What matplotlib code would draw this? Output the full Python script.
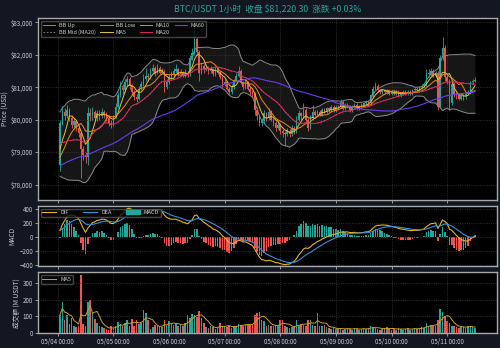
import numpy as np
import pandas as pd
import matplotlib
matplotlib.use('Agg')
import matplotlib.pyplot as plt
import matplotlib.dates as mdates
from matplotlib.lines import Line2D
from matplotlib.patches import Patch
from matplotlib.ticker import FuncFormatter

plt.rcParams['font.family'] = ['Noto Sans CJK SC', 'DejaVu Sans']

# 1h candles, 05/04 01:00 -> 05/11 12:00
start_time = '2025-05-04 01:00'

# 60 closes before the window (not drawn), only to seed MA/BB/MACD
warmup_closes = [
    77900, 77950, 78000, 77950, 78050, 78100, 78050, 78000, 78100, 78150,
    78100, 78050, 78150, 78200, 78150, 78100, 78200, 78250, 78200, 78150,
    78200, 78250, 78200, 78150, 78250, 78300, 78250, 78200, 78300, 78350,
    78300, 78250, 78350, 78400, 78350, 78300, 78400, 78450, 78600, 78900, 79200,
    79500, 79700, 79800, 79600, 79700, 79650, 79750, 79600, 79550, 79650,
    78800, 78600, 78500, 78550, 78550,
    78950, 79050, 79000, 78600,
]

opens = [
    78600, 79900, 80250, 80100, 80300, 80050, 79850, 79950, 79750, 79600, 79100, 78900,
    78850, 80200, 80100, 80250, 80050, 80200, 80100, 80250, 80150, 80050, 79900, 79850,
    80100, 80400, 80750, 81050, 80900, 81150, 81250, 81050, 80850, 80700, 80650, 80950,
    81100, 81250, 81350, 81300, 81500, 81600, 81450, 81600, 81450, 81500, 81000, 81150,
    81300, 81400, 81500, 81550, 81400, 81450, 81350, 81450, 81400, 81900, 82050, 82500,
    82100, 81450, 81650, 81550, 81600, 81500, 81550, 81400, 81550, 81450, 81300, 81100,
    81150, 80950, 80850, 81000, 81200, 81350, 81500, 81150, 81000, 81150, 80950, 80850,
    80800, 80300, 80100, 79900, 79950, 80200, 80050, 80250, 80000, 79900, 79750, 79850,
    79650, 79600, 79550, 79650, 79550, 79750, 79650, 80000, 80200, 80100, 80300, 80000,
    79750, 80050, 80250, 80150, 80250, 80150, 80300, 80250, 80350, 80300, 80400, 80300,
    80400, 80380, 80550, 80350, 80450, 80400, 80300, 80400, 80450, 80350, 80400, 80450,
    80500, 80550, 80500, 80750, 80950, 81050, 80900, 80850, 80900, 80850, 80900, 80800,
    80850, 80800, 80850, 80750, 80800, 80850, 80800, 80850, 80800, 80900, 80950, 80900,
    81000, 81050, 81100, 81450, 81400, 81500, 81350, 81450, 80400, 81900, 82200, 81300,
    81200, 80500, 81100, 80800, 80750, 80650, 80750, 80700, 80800, 80850, 81150, 81196,
]
closes = [
    79900, 80250, 80100, 80300, 80050, 79850, 79950, 79750, 79600, 79100, 78900, 78850,
    80200, 80100, 80250, 80050, 80200, 80100, 80250, 80150, 80050, 79900, 79850, 80100,
    80400, 80750, 81050, 80900, 81150, 81250, 81050, 80850, 80700, 80650, 80950, 81100,
    81250, 81350, 81300, 81500, 81600, 81450, 81600, 81450, 81500, 81000, 81150, 81300,
    81400, 81500, 81550, 81400, 81450, 81350, 81450, 81400, 81900, 82050, 82500, 82100,
    81450, 81650, 81550, 81600, 81500, 81550, 81400, 81550, 81450, 81300, 81100, 81150,
    80950, 80850, 81000, 81200, 81350, 81500, 81150, 81000, 81150, 80950, 80850, 80800,
    80300, 80100, 79900, 79950, 80200, 80050, 80250, 80000, 79900, 79750, 79850, 79650,
    79600, 79550, 79650, 79550, 79750, 79650, 80000, 80200, 80100, 80300, 80000, 79750,
    80050, 80250, 80150, 80250, 80150, 80300, 80250, 80350, 80300, 80400, 80300, 80400,
    80380, 80550, 80350, 80450, 80400, 80300, 80400, 80450, 80350, 80400, 80450, 80500,
    80550, 80500, 80750, 80950, 81050, 80900, 80850, 80900, 80850, 80900, 80800, 80850,
    80800, 80850, 80750, 80800, 80850, 80800, 80850, 80800, 80900, 80950, 80900, 81000,
    81050, 81100, 81450, 81400, 81500, 81350, 81450, 80400, 81900, 82200, 81300, 81200,
    80500, 81100, 80800, 80750, 80650, 80750, 80700, 80800, 80850, 81150, 81196, 81220.3,
]
highs = [
    80000, 80420, 80350, 80450, 80350, 80150, 80050, 80000, 79850, 79650, 79200, 79000,
    80400, 80350, 80400, 80300, 80300, 80300, 80350, 80300, 80250, 80100, 80000, 80150,
    80500, 80850, 81200, 81100, 81250, 81350, 81300, 81100, 80900, 80800, 81050, 81200,
    81400, 81600, 81450, 81600, 81700, 81650, 81700, 81650, 81600, 81550, 81250, 81400,
    81500, 81600, 81700, 81600, 81550, 81500, 81550, 81500, 82000, 82200, 82900, 82550,
    82150, 81750, 81700, 81700, 81650, 81650, 81600, 81650, 81600, 81500, 81350, 81250,
    81200, 81000, 81100, 81250, 81450, 81650, 81550, 81200, 81250, 81200, 81000, 80900,
    80850, 80400, 80150, 80050, 80300, 80250, 80350, 80300, 80050, 79950, 79950, 79900,
    79700, 79650, 79750, 79700, 79850, 79800, 80100, 80300, 80250, 80500, 80350, 80050,
    80150, 80450, 80300, 80300, 80300, 80350, 80350, 80400, 80400, 80450, 80450, 80450,
    80450, 80650, 80600, 80500, 80500, 80450, 80450, 80500, 80500, 80450, 80500, 80550,
    80600, 80600, 80800, 81050, 81150, 81100, 80950, 80950, 80950, 80950, 80950, 80900,
    80900, 80900, 80900, 80850, 80900, 80900, 80900, 80900, 80950, 81000, 81000, 81050,
    81100, 81150, 81550, 81550, 81600, 81550, 81500, 81500, 82000, 82550, 82300, 81400,
    81250, 81200, 81150, 80850, 80800, 80800, 80800, 80850, 80900, 81200, 81250, 81300,
]
lows = [
    78420, 79850, 80000, 80050, 79950, 79750, 79700, 79650, 79450, 78200, 78750, 78650,
    78600, 79950, 80000, 79950, 79950, 80000, 80050, 80050, 79950, 79800, 79750, 79800,
    80050, 80350, 80700, 80800, 80850, 81050, 80950, 80750, 80600, 80550, 80600, 80900,
    81050, 81200, 81200, 81250, 81450, 81350, 81400, 81400, 81400, 80850, 80950, 81100,
    81250, 81350, 81450, 81350, 81350, 81300, 81300, 81300, 81350, 81850, 82000, 82000,
    81200, 81400, 81450, 81500, 81400, 81450, 81350, 81350, 81400, 81250, 81000, 81050,
    80900, 80750, 80800, 80950, 81150, 81300, 81100, 80900, 80950, 80900, 80750, 80700,
    80150, 80000, 79800, 79800, 79900, 79950, 80000, 79950, 79800, 79650, 79700, 79550,
    79450, 79200, 79500, 79450, 79500, 79550, 79600, 79950, 80000, 80050, 79900, 79650,
    79700, 80000, 80100, 80100, 80100, 80100, 80200, 80200, 80250, 80250, 80250, 80250,
    80300, 80350, 80300, 80300, 80350, 80250, 80250, 80350, 80300, 80300, 80350, 80400,
    80450, 80450, 80450, 80700, 80900, 80850, 80800, 80800, 80800, 80800, 80750, 80750,
    80750, 80750, 80700, 80700, 80750, 80750, 80750, 80750, 80750, 80850, 80850, 80850,
    80950, 81000, 81050, 81300, 81350, 81300, 81300, 80300, 80350, 81850, 81200, 81100,
    80300, 80450, 80700, 80650, 80600, 80600, 80600, 80650, 80750, 80800, 81100, 81150,
]
# turnover, M USDT
volumes = [
    110, 185, 80, 110, 55, 90, 40, 35, 45, 345, 55, 40,
    185, 195, 120, 85, 60, 45, 35, 30, 25, 20, 45, 30,
    45, 65, 55, 40, 60, 80, 45, 85, 40, 75, 55, 60,
    140, 120, 75, 25, 35, 50, 45, 40, 35, 75, 50, 70,
    55, 50, 60, 45, 50, 40, 60, 110, 90, 115, 110, 95,
    130, 90, 60, 35, 30, 40, 35, 25, 30, 60, 45, 40,
    35, 45, 30, 40, 45, 55, 50, 45, 50, 55, 50, 55,
    110, 120, 125, 80, 70, 45, 50, 40, 45, 50, 40, 75,
    80, 40, 35, 30, 35, 40, 75, 45, 55, 50, 45, 80,
    75, 50, 45, 120, 45, 40, 50, 35, 30, 25, 30, 25,
    25, 30, 20, 25, 30, 25, 20, 30, 25, 20, 25, 30,
    25, 30, 40, 35, 30, 25, 20, 25, 30, 35, 25, 20,
    25, 20, 30, 25, 20, 25, 30, 20, 25, 30, 25, 30,
    35, 30, 60, 45, 50, 40, 45, 80, 145, 125, 100, 70,
    60, 45, 40, 35, 30, 45, 35, 30, 40, 45, 35, 30,
]

UP = '#26a69a'
DOWN = '#ef5350'
BG = '#131722'
TXT = '#c8ccd4'

n = len(closes)
df = pd.DataFrame({'open': opens, 'high': highs, 'low': lows, 'close': closes, 'vol': volumes},
                  index=pd.date_range(start_time, periods=n, freq='h'))

# indicadores (con las velas previas)
c_all = pd.Series(warmup_closes + closes, dtype=float)
sd = c_all.rolling(20, min_periods=1).std(ddof=0)
ema12 = c_all.ewm(span=12, adjust=False).mean()
ema26 = c_all.ewm(span=26, adjust=False).mean()
dif = ema12 - ema26
dea = dif.ewm(span=9, adjust=False).mean()
ind = pd.DataFrame({
    'ma5': c_all.rolling(5, min_periods=1).mean(),
    'ma10': c_all.rolling(10, min_periods=1).mean(),
    'ma20': c_all.rolling(20, min_periods=1).mean(),
    'ma60': c_all.rolling(60, min_periods=1).mean(),
    'dif': dif, 'dea': dea,
}).iloc[-n:]
for col in ind.columns:
    df[col] = ind[col].values
df['bb_up'] = df['ma20'] + 2 * sd.iloc[-n:].values
df['bb_low'] = df['ma20'] - 2 * sd.iloc[-n:].values
df['hist'] = 2 * (df['dif'] - df['dea'])
df['vma5'] = df['vol'].rolling(5, min_periods=1).mean()

x = mdates.date2num(df.index.to_pydatetime())
w = 0.65 / 24
up = df['close'] >= df['open']
colors = np.where(up, UP, DOWN)

fig, (ax, ax2, ax3) = plt.subplots(3, 1, figsize=(5, 3.48), dpi=100, sharex=True,
                                   gridspec_kw={'height_ratios': [3, 1, 1]})
fig.patch.set_facecolor(BG)
plt.subplots_adjust(left=0.076, right=0.994, top=0.948, bottom=0.043, hspace=0.06)

for a in (ax, ax2, ax3):
    a.set_facecolor('#000000')
    a.grid(True, color='#3c3c3c', ls=':', lw=0.6)
    a.tick_params(colors=TXT, labelsize=4.5, length=2, width=0.5, pad=1.5)
    for s in a.spines.values():
        s.set_color('#a8a8a8')
        s.set_linewidth(1.0)

# precio
ax.fill_between(x, df['bb_low'], df['bb_up'], color='#161616', lw=0)
ax.plot(x, df['bb_up'], color='#8a8a8a', lw=0.7, label='BB Up')
ax.plot(x, df['ma20'], color='#8a8a8a', lw=0.6, ls=(0, (2, 2)), label='BB Mid (MA20)')
ax.plot(x, df['bb_low'], color='#8a8a8a', lw=0.7, label='BB Low')
ax.vlines(x, df['low'], df['high'], color=colors, lw=0.6)
body = (df['close'] - df['open']).abs().clip(lower=8)
ax.bar(x, body, bottom=df[['open', 'close']].min(axis=1), width=w, color=colors, lw=0)
ax.plot(x, df['ma5'], color='#e6c229', lw=0.7, label='MA5')
ax.plot(x, df['ma10'], color='#f08a17', lw=0.7, label='MA10')
ax.plot(x, df['ma20'], color='#e0245e', lw=0.7, label='MA20')
ax.plot(x, df['ma60'], color='#6b3cf0', lw=0.8, label='MA60')
h, l = ax.get_legend_handles_labels()
order = ['BB Up', 'BB Mid (MA20)', 'BB Low', 'MA5', 'MA10', 'MA20', 'MA60']
hd = [h[l.index(o)] for o in order]
ax.legend(hd, order, loc='upper left', ncol=4, fontsize=4, frameon=True,
          facecolor='#0a0a0a', edgecolor='#555555', labelcolor=TXT,
          handlelength=2.2, columnspacing=0.9, handletextpad=0.6, borderpad=0.4,
          labelspacing=0.3)
ax.set_ylim(77530, 83130)
ax.yaxis.set_major_formatter(FuncFormatter(lambda v, p: '${:,.0f}'.format(v)))
ax.set_ylabel('Price (USD)', color=TXT, fontsize=4.8, labelpad=2)
ax.set_title('BTC/USDT 1小时  收盘 $81,220.30  涨跌 +0.03%', color=UP, fontsize=6.3, pad=4)

# MACD
hcol = np.where(df['hist'] >= 0, UP, DOWN)
ax2.bar(x, df['hist'], width=w, color=hcol, lw=0)
ax2.plot(x, df['dif'], color='#e6b422', lw=0.8)
ax2.plot(x, df['dea'], color='#3a8fd9', lw=0.8)
ax2.set_ylim(-420, 440)
ax2.set_yticks([-400, -200, 0, 200, 400])
ax2.legend([Line2D([], [], color='#e6b422', lw=0.8), Line2D([], [], color='#3a8fd9', lw=0.8),
            Patch(color=UP)], ['DIF', 'DEA', 'MACD'], loc='upper left', ncol=3, fontsize=4,
           facecolor='#0a0a0a', edgecolor='#555555', labelcolor=TXT, handlelength=2.5,
           columnspacing=2.5, borderpad=0.3)
ax2.set_ylabel('MACD', color=TXT, fontsize=4.8, labelpad=2)

# volumen
ax3.bar(x, df['vol'], width=w, color=colors, lw=0)
ax3.plot(x, df['vma5'], color='#c9a227', lw=0.7, label='MA5')
ax3.legend(loc='upper left', fontsize=4, facecolor='#0a0a0a', edgecolor='#555555',
           labelcolor=TXT, handlelength=2.5, borderpad=0.3)
ax3.set_ylabel('成交额 (M USDT)', color=TXT, fontsize=4.8, labelpad=2)
ax3.xaxis.set_major_locator(mdates.DayLocator())
ax3.xaxis.set_major_formatter(mdates.DateFormatter('%m/%d %H:%M'))
ax3.set_xlim(x[0] - 9.5 / 24, x[-1] + 9.5 / 24)

fig.savefig('out.png', dpi=100, facecolor=BG)
